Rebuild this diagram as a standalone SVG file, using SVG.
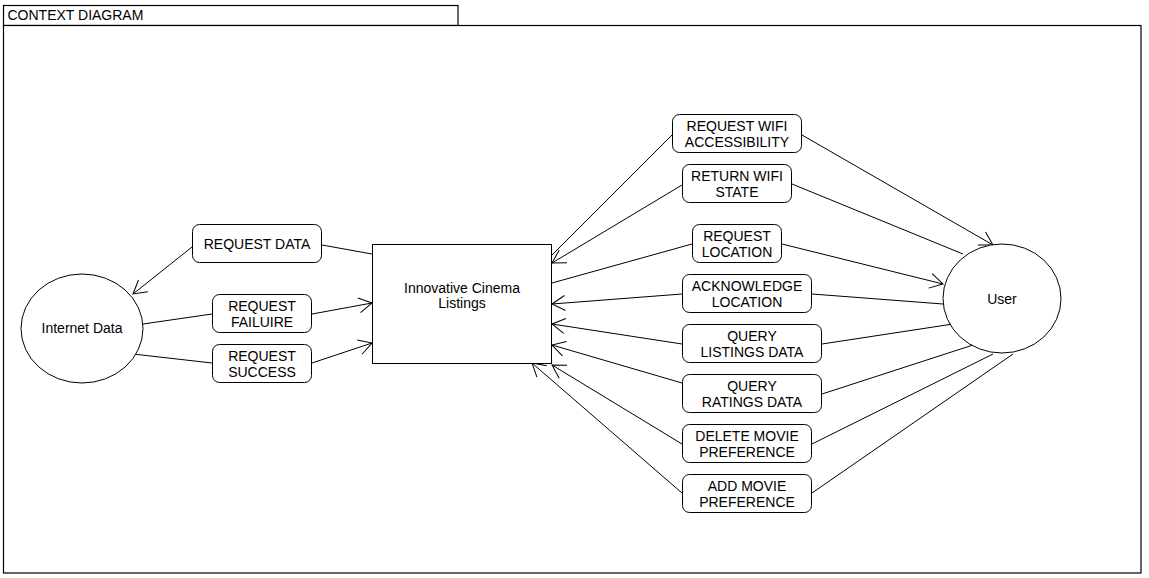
<svg xmlns="http://www.w3.org/2000/svg" width="1149" height="578" viewBox="0 0 1149 578">
<defs>
<marker id="arr" markerUnits="userSpaceOnUse" markerWidth="20" markerHeight="20" viewBox="-15 -10 20 20" refX="0" refY="0" orient="auto">
<path d="M-13,-7.5 L0,0 L-13,7.5" fill="none" stroke="#000" stroke-width="1"/>
</marker>
</defs>
<style>
text{font-family:"Liberation Sans",Arial,sans-serif;font-size:14px;fill:#000}
.c{text-anchor:middle}
.lbl rect{fill:#fff;stroke:#000;stroke-width:1}
.node{fill:#fff;stroke:#000;stroke-width:1}
.conn line{stroke:#000;stroke-width:1;fill:none}
.conn line.a{marker-end:url(#arr)}
.frame{fill:#fff;stroke:#000;stroke-width:1.2}
</style>
<rect x="0" y="0" width="1149" height="578" fill="#fff"/>
<g id="frame">
<rect class="frame" x="3.5" y="5.5" width="454.5" height="20"/>
<rect class="frame" x="3.5" y="25.5" width="1137.5" height="547.5"/>
<text x="7.5" y="19.5">CONTEXT DIAGRAM</text>
</g>
<g id="connectors" class="conn">
<line x1="372" y1="254" x2="322" y2="245"/>
<line class="a" x1="192" y1="247" x2="133" y2="294"/>
<line x1="143" y1="324" x2="212" y2="314"/>
<line class="a" x1="312" y1="314" x2="372" y2="303"/>
<line x1="133" y1="354" x2="212" y2="363"/>
<line class="a" x1="312" y1="363" x2="372" y2="343"/>
<line x1="552" y1="255" x2="672" y2="135"/>
<line class="a" x1="802" y1="135" x2="993" y2="245"/>
<line x1="963" y1="254" x2="792" y2="184"/>
<line class="a" x1="682" y1="185" x2="552" y2="263"/>
<line x1="552" y1="283" x2="692" y2="244"/>
<line class="a" x1="782" y1="244" x2="943" y2="284"/>
<line x1="943" y1="304" x2="812" y2="294"/>
<line class="a" x1="682" y1="294" x2="552" y2="304"/>
<line x1="953" y1="324" x2="822" y2="344"/>
<line class="a" x1="682" y1="344" x2="552" y2="324"/>
<line x1="973" y1="345" x2="822" y2="394"/>
<line class="a" x1="682" y1="383" x2="552" y2="345"/>
<line x1="993" y1="354" x2="812" y2="444"/>
<line class="a" x1="682" y1="444" x2="552" y2="365"/>
<line x1="1013" y1="354" x2="812" y2="493"/>
<line class="a" x1="682" y1="493" x2="532" y2="363"/>
</g>
<g id="cinema">
<rect class="node" x="372.5" y="244.5" width="179" height="119"/>
<text class="c" x="462" y="293">Innovative Cinema</text>
<text class="c" x="462" y="308">Listings</text>
</g>
<g id="internet">
<ellipse class="node" cx="82" cy="328.5" rx="61" ry="54.5"/>
<text class="c" x="82" y="333">Internet Data</text>
</g>
<g id="user">
<ellipse class="node" cx="1002" cy="298.5" rx="59" ry="54.5"/>
<text class="c" x="1002" y="304">User</text>
</g>
<g id="l-request-data" class="lbl">
<rect x="192.5" y="224.5" width="129" height="38" rx="7"/>
<text class="c" x="257" y="249">REQUEST DATA</text>
</g>
<g id="l-request-failure" class="lbl">
<rect x="212.5" y="294.5" width="99" height="38" rx="7"/>
<text class="c" x="262" y="311">REQUEST</text>
<text class="c" x="262" y="327">FAILUIRE</text>
</g>
<g id="l-request-success" class="lbl">
<rect x="212.5" y="344.5" width="99" height="38" rx="7"/>
<text class="c" x="262" y="361">REQUEST</text>
<text class="c" x="262" y="377">SUCCESS</text>
</g>
<g id="l-wifi-access" class="lbl">
<rect x="672.5" y="114.5" width="129" height="38" rx="7"/>
<text class="c" x="737" y="131">REQUEST WIFI</text>
<text class="c" x="737" y="147">ACCESSIBILITY</text>
</g>
<g id="l-wifi-state" class="lbl">
<rect x="682.5" y="164.5" width="109" height="38" rx="7"/>
<text class="c" x="737" y="181">RETURN WIFI</text>
<text class="c" x="737" y="197">STATE</text>
</g>
<g id="l-request-location" class="lbl">
<rect x="692.5" y="224.5" width="89" height="38" rx="7"/>
<text class="c" x="737" y="241">REQUEST</text>
<text class="c" x="737" y="257">LOCATION</text>
</g>
<g id="l-ack-location" class="lbl">
<rect x="682.5" y="274.5" width="129" height="38" rx="7"/>
<text class="c" x="747" y="291">ACKNOWLEDGE</text>
<text class="c" x="747" y="307">LOCATION</text>
</g>
<g id="l-query-listings" class="lbl">
<rect x="682.5" y="324.5" width="139" height="38" rx="7"/>
<text class="c" x="752" y="341">QUERY</text>
<text class="c" x="752" y="357">LISTINGS DATA</text>
</g>
<g id="l-query-ratings" class="lbl">
<rect x="682.5" y="374.5" width="139" height="38" rx="7"/>
<text class="c" x="752" y="391">QUERY</text>
<text class="c" x="752" y="407">RATINGS DATA</text>
</g>
<g id="l-delete-pref" class="lbl">
<rect x="682.5" y="424.5" width="129" height="38" rx="7"/>
<text class="c" x="747" y="441">DELETE MOVIE</text>
<text class="c" x="747" y="457">PREFERENCE</text>
</g>
<g id="l-add-pref" class="lbl">
<rect x="682.5" y="474.5" width="129" height="38" rx="7"/>
<text class="c" x="747" y="491">ADD MOVIE</text>
<text class="c" x="747" y="507">PREFERENCE</text>
</g>
</svg>
